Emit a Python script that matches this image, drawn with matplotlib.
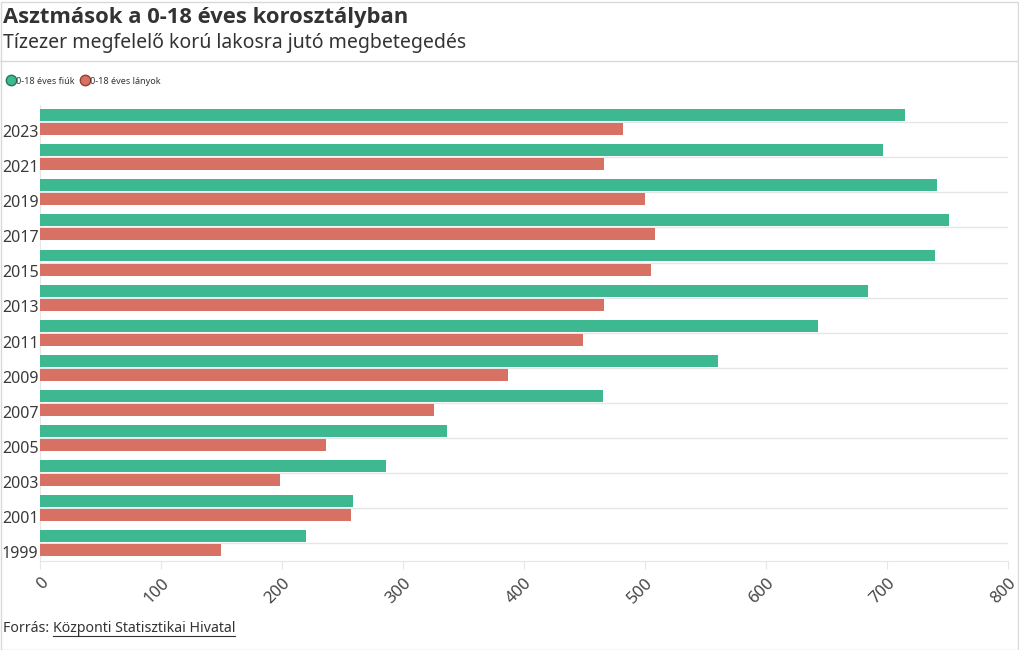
import matplotlib.pyplot as plt
import matplotlib.transforms as mtransforms
from matplotlib.patches import Rectangle
from matplotlib.lines import Line2D
import numpy as np

plt.rcParams['font.family'] = ['Noto Sans', 'DejaVu Sans']

years = ["1999", "2001", "2003", "2005", "2007", "2009", "2011",
         "2013", "2015", "2017", "2019", "2021", "2023"]
boys = [220, 259, 286, 336, 465, 560, 643, 684, 740, 751, 741, 697, 715]
girls = [150, 257, 198, 236, 326, 387, 449, 466, 505, 508, 500, 466, 482]

green = "#3db891"
red = "#d77163"

fig = plt.figure(figsize=(10.2, 6.5), dpi=100)
W, H = 1020, 650
ax = fig.add_axes([40 / W, (H - 561) / H, 968 / W, (561 - 104.5) / H])

y = np.arange(len(years))
off = 0.2
h = 0.34
ax.barh(y + off, boys, height=h, color=green, zorder=3)
ax.barh(y - off, girls, height=h, color=red, zorder=3)

ax.set_xlim(0, 800)
ax.set_ylim(-0.5, len(years) - 0.5)
ax.set_xticks(range(0, 801, 100))
ax.set_xticklabels([str(v) for v in range(0, 801, 100)], rotation=45,
                   ha="right", rotation_mode="anchor", fontsize=12, color="#444444")
ax.set_yticks(y)
ax.set_yticklabels(years, fontsize=11.5, color="#3a3a3a", va="top", ha="left")
ax.tick_params(axis="y", length=0, pad=27.5)
ax.tick_params(axis="x", length=6, color="#e6e6e6", pad=4)
shift = mtransforms.ScaledTranslation(0, -2 / 72, fig.dpi_scale_trans)
for lab in ax.get_yticklabels():
    lab.set_transform(lab.get_transform() + shift)
ax.grid(axis="y", color="#e6e6e6", linewidth=1, zorder=0)
for s in ["top", "right"]:
    ax.spines[s].set_visible(False)
ax.spines["left"].set_color("#e6e6e6")
ax.spines["bottom"].set_color("#e6e6e6")

# header
fig.text(3 / W, 1 - 17 / H, "Asztmások a 0-18 éves korosztályban",
         fontsize=15.8, fontweight="bold", family=["Open Sans", "DejaVu Sans"],
         color="#333333", va="center", ha="left")
fig.text(3 / W, 1 - 43 / H, "Tízezer megfelelő korú lakosra jutó megbetegedés",
         fontsize=14, color="#333333", va="center", ha="left")
fig.add_artist(Line2D([0, 1], [1 - 61 / H, 1 - 61 / H], color="#d9d9d9", linewidth=1))

# legend
handles = [Line2D([], [], marker="o", linestyle="", markersize=7.5,
                  markerfacecolor=green, markeredgecolor="#1f7a5c", label="0-18 éves fiúk"),
           Line2D([], [], marker="o", linestyle="", markersize=7.5,
                  markerfacecolor=red, markeredgecolor="#9a3b30", label="0-18 éves lányok")]
fig.legend(handles=handles, loc="center left", bbox_to_anchor=(-2 / W, 1 - 81 / H),
           ncol=2, frameon=False, fontsize=6.5, handletextpad=0.1,
           columnspacing=0.6, handlelength=1.0, labelcolor="#333333")

# footer
t = fig.text(3 / W, 1 - 629 / H, "Forrás: ", fontsize=10.2, color="#333333", va="center")
fig.canvas.draw()
bb = t.get_window_extent()
t2 = fig.text(bb.x1 / W, 1 - 629 / H, "Központi Statisztikai Hivatal", fontsize=10.2,
              color="#333333", va="center")
fig.canvas.draw()
bb2 = t2.get_window_extent()
fig.add_artist(Line2D([bb2.x0 / W, bb2.x1 / W], [(bb2.y0 + 1) / H, (bb2.y0 + 1) / H],
                      color="#333333", linewidth=0.8))

# border
fig.add_artist(Rectangle((0.5 / W, 0.5 / H), 1 - 2 / W, 1 - 2 / H, transform=fig.transFigure,
                         fill=False, edgecolor="#d9d9d9", linewidth=1))

fig.savefig("out.png", dpi=100)
